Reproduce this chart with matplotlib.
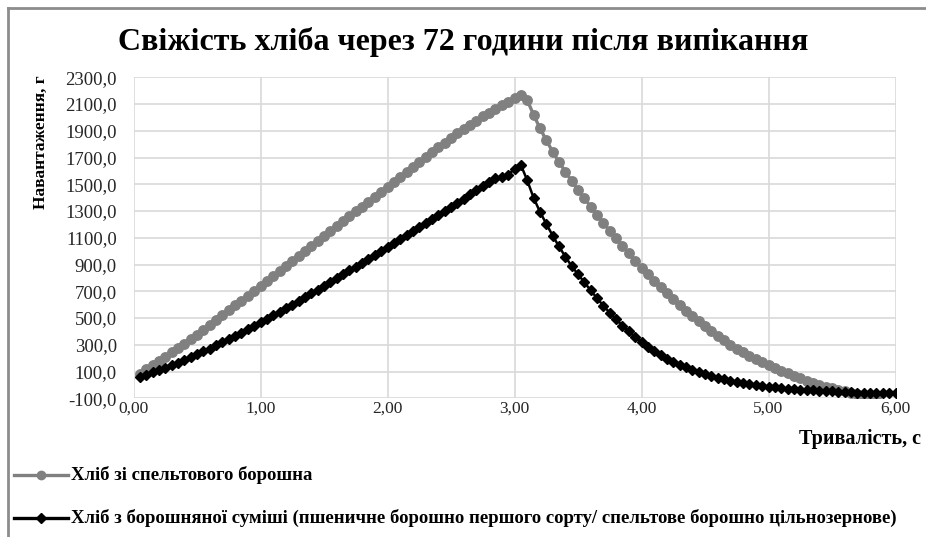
import matplotlib
matplotlib.use("Agg")
import matplotlib.pyplot as plt
from matplotlib.lines import Line2D

plt.rcParams['font.family'] = ['Liberation Serif', 'DejaVu Serif']

title = "Свіжість хліба через 72 години після випікання"
ylabel = "Навантаження, г"
xlabel = "Тривалість, с"
label_gray = "Хліб зі спельтового борошна"
label_black = "Хліб з борошняної суміші (пшеничне борошно першого сорту/ спельтове борошно цільнозернове)"

x_ticks = [0, 1, 2, 3, 4, 5, 6]
x_tick_labels = ["0,00", "1,00", "2,00", "3,00", "4,00", "5,00", "6,00"]
y_ticks = [-100, 100, 300, 500, 700, 900, 1100, 1300, 1500, 1700, 1900, 2100, 2300]
y_tick_labels = ["-100,0", "100,0", "300,0", "500,0", "700,0", "900,0", "1100,0", "1300,0",
                 "1500,0", "1700,0", "1900,0", "2100,0", "2300,0"]

t_gray = [0.05, 0.10, 0.15, 0.20, 0.25, 0.30, 0.35, 0.40, 0.45, 0.50,
          0.55, 0.60, 0.65, 0.70, 0.75, 0.80, 0.85, 0.90, 0.95, 1.00,
          1.05, 1.10, 1.15, 1.20, 1.25, 1.30, 1.35, 1.40, 1.45, 1.50,
          1.55, 1.60, 1.65, 1.70, 1.75, 1.80, 1.85, 1.90, 1.95, 2.00,
          2.05, 2.10, 2.15, 2.20, 2.25, 2.30, 2.35, 2.40, 2.45, 2.50,
          2.55, 2.60, 2.65, 2.70, 2.75, 2.80, 2.85, 2.90, 2.95, 3.00,
          3.05, 3.10, 3.15, 3.20, 3.25, 3.30, 3.35, 3.40, 3.45, 3.50,
          3.55, 3.60, 3.65, 3.70, 3.75, 3.80, 3.85, 3.90, 3.95, 4.00,
          4.05, 4.10, 4.15, 4.20, 4.25, 4.30, 4.35, 4.40, 4.45, 4.50,
          4.55, 4.60, 4.65, 4.70, 4.75, 4.80, 4.85, 4.90, 4.95, 5.00,
          5.05, 5.10, 5.15, 5.20, 5.25, 5.30, 5.35, 5.40, 5.45, 5.50,
          5.55, 5.60, 5.65, 5.70, 5.75, 5.80, 5.85]
v_gray = [85, 116, 147, 179, 211, 243, 276, 309, 342, 376,
          411, 447, 483, 520, 557, 594, 631, 668, 705, 742,
          779, 816, 853, 890, 927, 964, 1001, 1038, 1075, 1112,
          1149, 1186, 1223, 1260, 1297, 1334, 1371, 1408, 1445, 1482,
          1519, 1556, 1593, 1630, 1667, 1704, 1740, 1776, 1812, 1847,
          1881, 1914, 1946, 1977, 2007, 2036, 2064, 2091, 2117, 2142,
          2168, 2130, 2020, 1920, 1830, 1745, 1668, 1595, 1525, 1458,
          1395, 1333, 1272, 1212, 1153, 1096, 1040, 985, 930, 877,
          826, 777, 730, 684, 640, 597, 555, 514, 475, 437,
          401, 366, 333, 301, 271, 243, 217, 193, 171, 150,
          128, 107, 87, 68, 50, 33, 17, 2, -12, -25,
          -37, -48, -58, -67, -75, -82, -89]

t_black = [0.05, 0.10, 0.15, 0.20, 0.25, 0.30, 0.35, 0.40, 0.45, 0.50,
           0.55, 0.60, 0.65, 0.70, 0.75, 0.80, 0.85, 0.90, 0.95, 1.00,
           1.05, 1.10, 1.15, 1.20, 1.25, 1.30, 1.35, 1.40, 1.45, 1.50,
           1.55, 1.60, 1.65, 1.70, 1.75, 1.80, 1.85, 1.90, 1.95, 2.00,
           2.05, 2.10, 2.15, 2.20, 2.25, 2.30, 2.35, 2.40, 2.45, 2.50,
           2.55, 2.60, 2.65, 2.70, 2.75, 2.80, 2.85, 2.90, 2.95, 3.00,
           3.05, 3.10, 3.15, 3.20, 3.25, 3.30, 3.35, 3.40, 3.45, 3.50,
           3.55, 3.60, 3.65, 3.70, 3.75, 3.80, 3.85, 3.90, 3.95, 4.00,
           4.05, 4.10, 4.15, 4.20, 4.25, 4.30, 4.35, 4.40, 4.45, 4.50,
           4.55, 4.60, 4.65, 4.70, 4.75, 4.80, 4.85, 4.90, 4.95, 5.00,
           5.05, 5.10, 5.15, 5.20, 5.25, 5.30, 5.35, 5.40, 5.45, 5.50,
           5.55, 5.60, 5.65, 5.70, 5.75, 5.80, 5.85, 5.90, 5.95, 6.00]
v_black = [57, 75, 93, 111, 129, 147, 166, 186, 207, 228,
           250, 272, 295, 318, 342, 366, 391, 416, 442, 468,
           494, 520, 547, 574, 601, 628, 656, 684, 712, 740,
           769, 798, 827, 856, 885, 914, 943, 972, 1001, 1030,
           1060, 1090, 1120, 1150, 1180, 1210, 1240, 1270, 1299, 1328,
           1360, 1392, 1424, 1456, 1488, 1518, 1545, 1553, 1570, 1615,
           1645, 1530, 1400, 1295, 1205, 1117, 1035, 960, 888, 828,
           767, 707, 648, 592, 540, 490, 443, 400, 358, 320,
           285, 253, 224, 197, 173, 151, 131, 113, 97, 82,
           68, 55, 44, 33, 23, 14, 6, -1, -7, -13,
           -18, -23, -27, -31, -35, -38, -41, -44, -47, -49,
           -51, -53, -55, -57, -58, -59, -60, -61, -62, -63]

W, H = 926, 537
fig = plt.figure(figsize=(W / 100, H / 100), dpi=100)
fig.patch.set_facecolor("white")

left, right, top, bottom = 133.5, 895.5, 77.3, 398.3
ax = fig.add_axes([left / W, 1 - bottom / H, (right - left) / W, (bottom - top) / H])

grid_c = "#d9d9d9"
gray_c = "#808080"
txt_c = "#262626"

ax.plot(t_gray, v_gray, color=gray_c, lw=2.4, marker="o", ms=6.8, mec=gray_c, mfc=gray_c, zorder=3)
ax.plot(t_black, v_black, color="black", lw=1.8, marker="D", ms=5.0, mec="black", mfc="black", zorder=4)

ax.set_xlim(0, 6)
ax.set_ylim(-100, 2300)
ax.set_xticks(x_ticks)
ax.set_xticklabels(x_tick_labels)
ax.set_yticks(y_ticks)
ax.set_yticklabels(y_tick_labels)
ax.grid(True, color=grid_c, lw=1.2)
ax.set_axisbelow(True)
for s in ax.spines.values():
    s.set_visible(False)
ax.tick_params(length=0, colors=txt_c)
ax.tick_params(axis="y", pad=12, labelsize=13.5)
ax.tick_params(axis="x", pad=2, labelsize=12.5)

fig.text(463 / W, 1 - 42 / H, title, ha="center", va="center", fontsize=23, fontweight="bold")
fig.text(41 / W, 1 - 142 / H, ylabel, ha="center", va="center", rotation=90,
         fontsize=12.5, fontweight="bold")
fig.text(921 / W, 1 - 439 / H, xlabel, ha="right", va="center", fontsize=14.5, fontweight="bold")

# legend
for yy, col, mk, ms, lab in [(475, gray_c, "o", 6, label_gray), (518, "black", "D", 5, label_black)]:
    fig.add_artist(Line2D([14 / W, 68 / W], [1 - yy / H, 1 - yy / H], color=col, lw=2.4,
                          transform=fig.transFigure))
    fig.add_artist(Line2D([41 / W], [1 - yy / H], color=col, marker=mk, ms=ms, mfc=col, mec=col,
                          transform=fig.transFigure))
    fig.text(71 / W, 1 - yy / H, lab, ha="left", va="center", fontsize=13.5, fontweight="bold")

# outer border (top and left)
fig.add_artist(Line2D([8 / W, 1.0], [1 - 8 / H, 1 - 8 / H], color="#8c8c8c", lw=2, transform=fig.transFigure))
fig.add_artist(Line2D([8 / W, 8 / W], [1 - 8 / H, 0], color="#8c8c8c", lw=2, transform=fig.transFigure))

fig.savefig("out.png", dpi=100, facecolor="white")
